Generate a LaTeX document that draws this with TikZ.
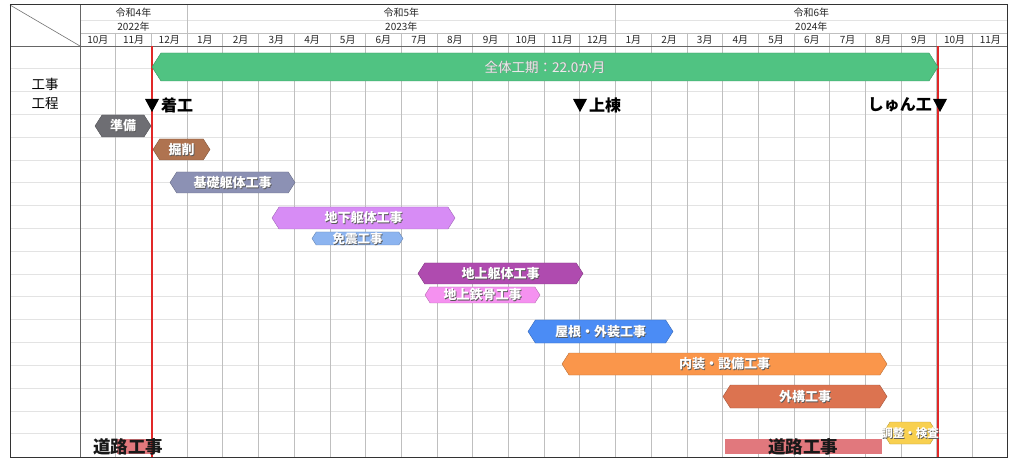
\documentclass[tikz,border=0pt]{standalone}
\usepackage{fontspec}
\newfontfamily\jp{Noto Sans CJK JP}
\definecolor{cgreen}{RGB}{80,195,130}
\definecolor{cjunbi}{RGB}{110,110,115}
\definecolor{ckussaku}{RGB}{175,115,80}
\definecolor{ckiso}{RGB}{140,145,180}
\definecolor{cchika}{RGB}{215,140,245}
\definecolor{cmenshin}{RGB}{140,180,240}
\definecolor{cchijo}{RGB}{175,75,175}
\definecolor{ctekkotsu}{RGB}{245,145,240}
\definecolor{cyane}{RGB}{75,140,245}
\definecolor{cnaiso}{RGB}{250,150,75}
\definecolor{cgaiko}{RGB}{220,115,80}
\definecolor{cchosei}{RGB}{248,208,80}
\definecolor{croad}{RGB}{225,120,125}
\definecolor{cred}{RGB}{225,40,40}
\tikzset{
  hline/.style={draw=gray!22, line width=0.6pt},
  vline/.style={draw=gray!50, line width=0.7pt},
  frameline/.style={draw=black!80, line width=1pt},
  redline/.style={draw=cred, line width=1.3pt},
  hdr/.style={font=\jp\fontsize{10}{10}\selectfont, text=black!85, inner sep=0pt},
  bartext/.style={font=\jp\bfseries\fontsize{13}{13}\selectfont, text=white, inner sep=0pt},
  barshadow/.style={font=\jp\bfseries\fontsize{13}{13}\selectfont, text=black!65, inner sep=0pt},
  mile/.style={font=\jp\bfseries\fontsize{16}{16}\selectfont, text=black, inner sep=0pt},
  road/.style={font=\jp\bfseries\fontsize{17.5}{17.5}\selectfont, text=black!90, inner sep=0pt},
}
% name, x1, x2, ytop, ybot, colour, text, font size
\newcommand\hexbar[8]{%
  \pgfmathsetmacro\ymid{(#4+#5)/2}%
  \pgfmathsetmacro\dep{0.32*(#5-#4)}%
  \pgfmathsetmacro\xmid{(#2+#3)/2}%
  \filldraw[fill=#6, draw=#6!75!black, line width=0.4pt]
    (#2,\ymid) -- (#2+\dep,#4) -- (#3-\dep,#4) -- (#3,\ymid) -- (#3-\dep,#5) -- (#2+\dep,#5) -- cycle;
  \node[barshadow, font=\jp\bfseries\fontsize{#8}{#8}\selectfont] at (\xmid+0.8,\ymid+0.8) {#7};
  \node[bartext, font=\jp\bfseries\fontsize{#8}{#8}\selectfont] (#1) at (\xmid,\ymid) {#7};
}
\begin{document}
\begin{tikzpicture}[x=1pt,y=-1pt]
\useasboundingbox (0,0) rectangle (1012,470);
\fill[white] (0,0) rectangle (1012,470);
% row lines
\foreach \i in {1,...,17} \draw[hline] (10,{46+\i*22.8}) -- (1007,{46+\i*22.8});
\draw[hline] (80,20) -- (1007,20);
% month lines
\foreach \i in {1,...,25} \draw[vline] ({80+\i*35.7},33) -- ({80+\i*35.7},457);
\draw[vline] (187.1,5) -- (187.1,33);
\draw[vline] (615.5,5) -- (615.5,33);
\draw[vline] (80,33) -- (1007,33);
\draw[draw=black!60, line width=0.8pt] (10,46) -- (1007,46);
\draw[draw=black!60, line width=0.8pt] (80,5) -- (80,457);
\draw[draw=black!55, line width=0.6pt] (10,5) -- (80,46);
% header labels
\node[hdr] (y1a) at (133.5,13) {令和4年};
\node[hdr] (y1b) at (133.5,26.5) {2022年};
\node[hdr] (y2a) at (401.3,13) {令和5年};
\node[hdr] (y2b) at (401.3,26.5) {2023年};
\node[hdr] (y3a) at (811.3,13) {令和6年};
\node[hdr] (y3b) at (811.3,26.5) {2024年};
\foreach \i in {0,...,25} {
  \pgfmathtruncatemacro\mm{mod(\i+9,12)+1}
  \node[hdr] (m\i) at ({80+(\i+0.5)*35.7},40) {\mm 月};
}
% left label
\node[font=\jp\fontsize{13.5}{13.5}\selectfont, inner sep=0pt] (koji) at (45,84) {工事};
\node[font=\jp\fontsize{13.5}{13.5}\selectfont, inner sep=0pt] (kotei) at (45,103) {工程};
% road works
\fill[croad] (116.7,438.5) rectangle (151.7,453.5);
\fill[croad] (725,439) rectangle (882,454);
% red lines
\draw[redline] (152,46) -- (152,457);
\draw[redline] (938,46) -- (938,457);
% total bar
\hexbar{zentai}{152}{938}{53}{81}{cgreen}{}{13}
\node[font=\jp\fontsize{13.5}{13.5}\selectfont, text=black!45, inner sep=0pt] at (545.8,67.8) {全体工期：22.0か月};
\node[font=\jp\fontsize{13.5}{13.5}\selectfont, text=white!92!black, inner sep=0pt] (zentaiT) at (545,67) {全体工期：22.0か月};
% milestones
\fill[black] (145,99) -- (159,99) -- (152,112) -- cycle;
\node[mile, anchor=west] (chako) at (161,105) {着工};
\fill[black] (573,99) -- (587,99) -- (580,112) -- cycle;
\node[mile, anchor=west] (joto) at (589,105) {上棟};
\fill[black] (933,99) -- (947,99) -- (940,112) -- cycle;
\node[mile, anchor=east] (shunko) at (932,105) {しゅん工};
% bars
\hexbar{junbi}{95}{151}{115}{137}{cjunbi}{準備}{13}
\hexbar{kussaku}{153}{210}{139}{160}{ckussaku}{掘削}{13}
\hexbar{kiso}{170}{295}{172}{193}{ckiso}{基礎躯体工事}{13}
\hexbar{chika}{272}{455}{207}{229}{cchika}{地下躯体工事}{13}
\hexbar{menshin}{312}{403}{232}{245}{cmenshin}{免震工事}{12.5}
\hexbar{chijo}{418}{583}{263}{284}{cchijo}{地上躯体工事}{13}
\hexbar{tekkotsu}{425}{540}{287}{303}{ctekkotsu}{地上鉄骨工事}{13}
\hexbar{yane}{528}{673}{320}{343}{cyane}{屋根・外装工事}{13}
\hexbar{naiso}{562}{887}{353}{375}{cnaiso}{内装・設備工事}{13}
\hexbar{gaiko}{723}{887}{385}{408}{cgaiko}{外構工事}{13}
\hexbar{chosei}{883}{937}{422}{444}{cchosei}{調整・検査}{11.5}
% road work labels
\node[road] (road1) at (128,447) {道路工事};
\node[road] (road2) at (803,447) {道路工事};
% frame
\draw[frameline] (10,5) rectangle (1007,457);
\end{tikzpicture}
\end{document}
